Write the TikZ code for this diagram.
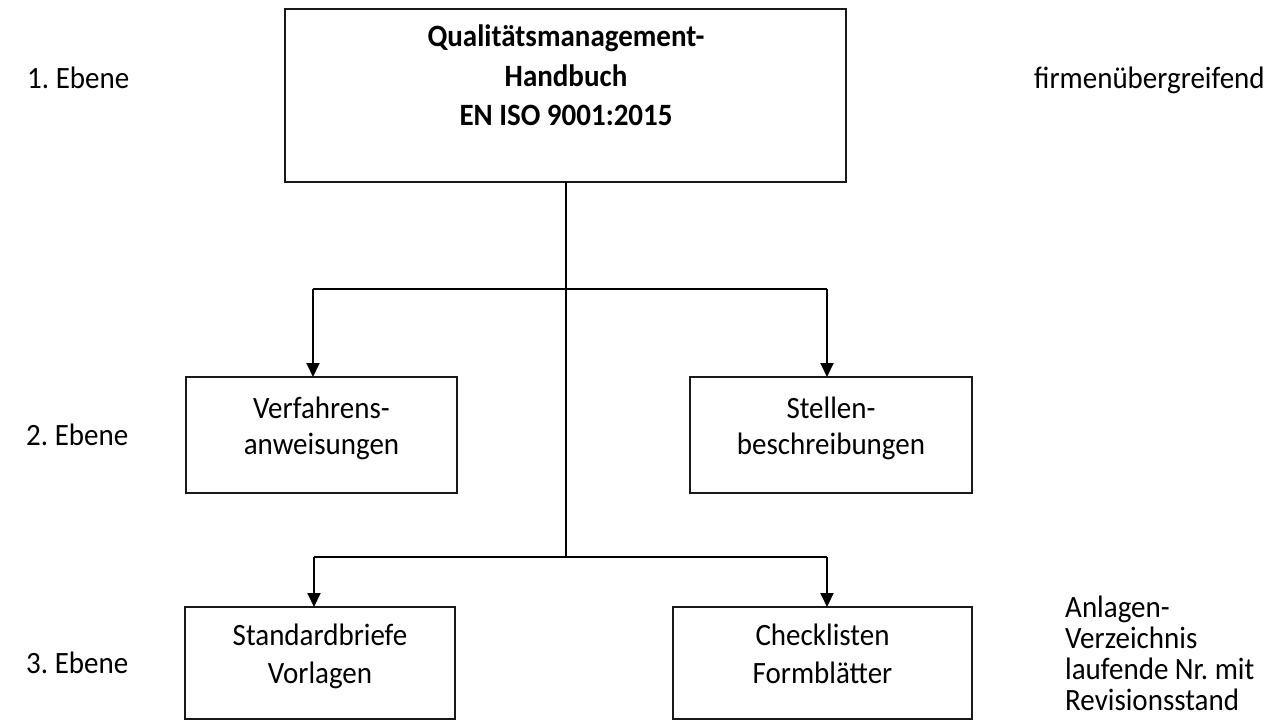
\documentclass[tikz,border=0pt]{standalone}
\usepackage{graphicx}
\usepackage{fontspec}
\setmainfont{Carlito}
\usetikzlibrary{arrows.meta}
\newcommand\vstr[1]{\scalebox{1}[1.07]{#1}}
\begin{document}
\frenchspacing
\begin{tikzpicture}[x=1pt,y=-1pt,
  box/.style={draw=black!90, line width=2pt, inner sep=0pt, outer sep=0pt},
  conn/.style={draw=black, line width=2pt},
  arr/.style={conn, -{Triangle[width=13pt,length=14pt]}},
  txt/.style={inner sep=0pt, font=\fontsize{29}{31}\selectfont\frenchspacing, anchor=base},
  lbl/.style={txt, anchor=base west},
  btxt/.style={txt, font=\fontsize{29}{31}\selectfont\bfseries}]
\useasboundingbox (0,0) rectangle (1277,722);
% boxes
\node[box, minimum width=561pt, minimum height=173pt] (qm) at (565.5,95.5) {};
\node[box, minimum width=271pt, minimum height=116pt] (va) at (321.5,435) {};
\node[box, minimum width=282pt, minimum height=116pt] (sb) at (831,435) {};
\node[box, minimum width=270pt, minimum height=112pt] (sv) at (320,663) {};
\node[box, minimum width=299pt, minimum height=112pt] (cf) at (822.5,663) {};
% box texts
\node[btxt] (qm1) at (566,47) {\vstr{Qualitätsmanagement-}};
\node[btxt] (qm2) at (566,87) {\vstr{Handbuch}};
\node[btxt] (qm3) at (566,126) {\vstr{EN ISO 9001:2015}};
\node[txt] (va1) at (321.5,418) {\vstr{Verfahrens-}};
\node[txt] (va2) at (321.5,454) {\vstr{anweisungen}};
\node[txt] (sb1) at (831,418) {\vstr{Stellen-}};
\node[txt] (sb2) at (831,454) {\vstr{beschreibungen}};
\node[txt] (sv1) at (320,645) {\vstr{Standardbriefe}};
\node[txt] (sv2) at (320,683) {\vstr{Vorlagen}};
\node[txt] (cf1) at (822.5,645) {\vstr{Checklisten}};
\node[txt] (cf2) at (822.5,683) {\vstr{Formblätter}};
% side labels
\node[lbl] (e1) at (27,89) {\vstr{1. Ebene}};
\node[lbl] (e2) at (26,445) {\vstr{2. Ebene}};
\node[lbl] (e3) at (26,673) {\vstr{3. Ebene}};
\node[lbl] (fu) at (1034,89) {\vstr{firmenübergreifend}};
\node[lbl] (an1) at (1065,617) {\vstr{Anlagen-}};
\node[lbl] (an2) at (1065,648) {\vstr{Verzeichnis}};
\node[lbl] (an3) at (1065,679) {\vstr{laufende Nr. mit}};
\node[lbl] (an4) at (1065,710) {\vstr{Revisionsstand}};
% connectors
\coordinate (j3) at (566,557);
\coordinate (l2) at (313,289);
\coordinate (r2) at (827,289);
\coordinate (l3) at (314,557);
\coordinate (r3) at (827,557);
\draw[conn] (qm.south -| j3) -- (j3);
\draw[conn] (l2) -- (r2);
\draw[conn] (l3) -- (r3);
\draw[arr] (l2) -- (l2 |- va.north);
\draw[arr] (r2) -- (r2 |- sb.north);
\draw[arr] (l3) -- (l3 |- sv.north);
\draw[arr] (r3) -- (r3 |- cf.north);
\end{tikzpicture}
\end{document}
